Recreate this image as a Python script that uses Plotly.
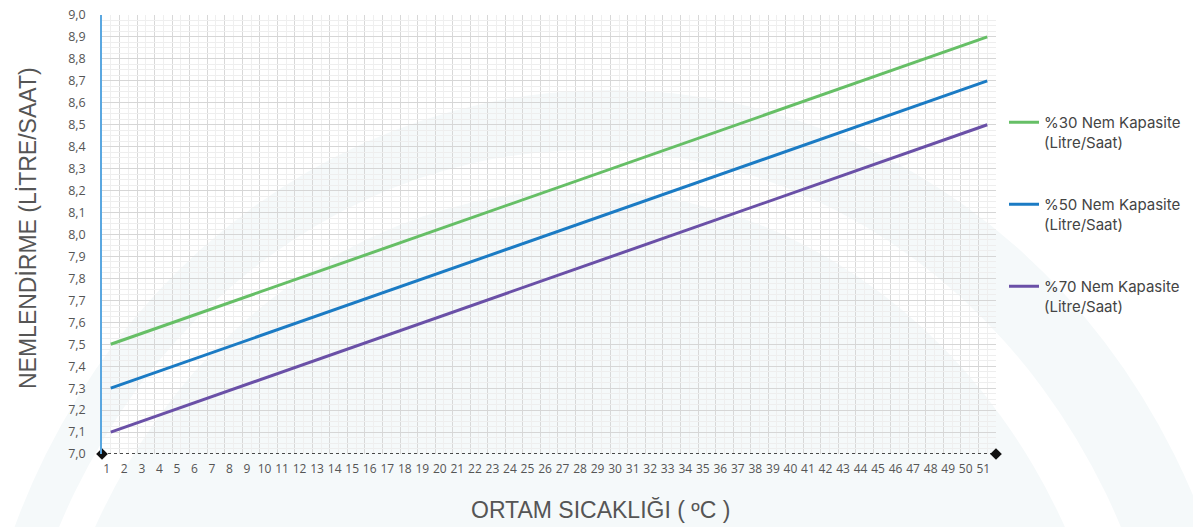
import plotly.graph_objects as go

# ---- data ----
x_points = [1, 51]
nem30 = [7.5, 8.9]
nem50 = [7.3, 8.7]
nem70 = [7.1, 8.5]
x_ticks = list(range(1, 52))
x_range = [0.5, 51.5]
y_range = [7.0, 9.0]
series_names = ["%30 Nem Kapasite<br>(Litre/Saat)",
                "%50 Nem Kapasite<br>(Litre/Saat)",
                "%70 Nem Kapasite<br>(Litre/Saat)"]
series_colors = ["#66bf66", "#1b7bc4", "#6a50a7"]

W, H = 1193, 527
ML, MR, MT, MB = 102, 197, 15, 73
PW, PH = W - ML - MR, H - MT - MB


def px(x):
    return (x - ML) / PW


def py(y):
    return (H - MB - y) / PH


fig = go.Figure()

# bottom dotted axis with diamond ends
fig.add_trace(go.Scatter(
    x=x_range, y=[y_range[0], y_range[0]], mode="lines+markers",
    line=dict(color="#111111", width=1.5, dash="dot"),
    marker=dict(symbol="diamond", size=9, color="#111111"),
    showlegend=False, hoverinfo="skip", cliponaxis=False))

for name, vals, col in zip(series_names, [nem30, nem50, nem70], series_colors):
    fig.add_trace(go.Scatter(
        x=x_points, y=vals, mode="lines", name=name,
        line=dict(color=col, width=3), legendgroup=name))

# watermark-like background arcs
def ellipse(cx, cy, rx, ry, color):
    return dict(type="circle", xref="paper", yref="paper",
                x0=px(cx - rx), x1=px(cx + rx), y0=py(cy + ry), y1=py(cy - ry),
                fillcolor=color, line=dict(width=0), layer="below")

fig.update_layout(shapes=[
    ellipse(610, 780, 640, 690, "#f5f9fa"),
    ellipse(590, 800, 585, 650, "#ffffff"),
    ellipse(580, 810, 545, 620, "#f5f9fa"),
])

fig.update_layout(
    width=W, height=H,
    margin=dict(l=ML, r=MR, t=MT, b=MB, autoexpand=False),
    paper_bgcolor="white", plot_bgcolor="rgba(0,0,0,0)",
    separators=",.",
    font=dict(family="Open Sans", color="#555555"),
    showlegend=True,
    legend=dict(x=px(1004), y=py(106), xanchor="left", yanchor="top",
                valign="top", tracegroupgap=40, itemwidth=30,
                font=dict(family="Inter", size=15, color="#444444"),
                bgcolor="rgba(0,0,0,0)"),
    xaxis=dict(range=x_range, tickmode="array", tickvals=x_ticks,
               ticktext=[str(v) for v in x_ticks], ticks="",
               tickfont=dict(size=12, color="#555555"),
               ticklabelshift=-4, ticklabelstandoff=6, automargin=False,
               showgrid=True, gridcolor="#efefef", gridwidth=1,
               zeroline=False, showline=False,
               minor=dict(tickvals=[v + 0.5 for v in range(0, 52)],
                          showgrid=True, gridcolor="#d8d8d8", gridwidth=1,
                          ticks="")),
    yaxis=dict(range=y_range, dtick=0.1, tick0=7.0, tickformat=".1f", ticks="",
               tickfont=dict(size=12.5, color="#555555"), ticklabelstandoff=12,
               automargin=False,
               showgrid=True, gridcolor="#d6d6d6", gridwidth=1,
               zeroline=False, showline=True, linecolor="#5aa7e0", linewidth=1.5,
               minor=dict(dtick=0.025, showgrid=True, gridcolor="#eeeeee",
                          gridwidth=1, ticks="")),
)

fig.add_annotation(text="NEMLENDİRME (LİTRE/SAAT)", xref="paper", yref="paper",
                   x=px(28), y=py(228), xanchor="center", yanchor="middle",
                   textangle=-90, showarrow=False,
                   font=dict(family="Liberation Sans", size=23, color="#555555"))

fig.add_annotation(text="ORTAM SICAKLIĞI ( ºC )", xref="paper", yref="paper",
                   x=px(600), y=py(510), xanchor="center", yanchor="middle",
                   showarrow=False,
                   font=dict(family="Liberation Sans", size=23, color="#555555"))

fig.write_html("out.html", config={"displayModeBar": False},
               post_script="document.body.style.margin='0';document.body.style.overflow='hidden';")
